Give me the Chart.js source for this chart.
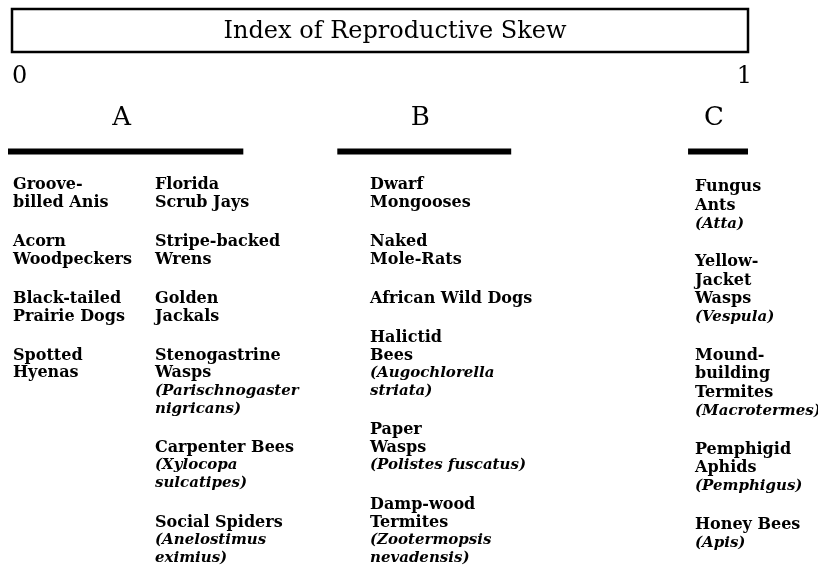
<!DOCTYPE html>
<html>
<head>
<meta charset="utf-8">
<script src="https://cdn.jsdelivr.net/npm/chart.js@4.4.0/dist/chart.umd.min.js"></script>
<style>
  html, body { margin: 0; padding: 0; background: #fff; }
</style>
</head>
<body>
<canvas id="skewChart" width="818" height="569"></canvas>
<script>
// Data
const groups = ['A', 'B', 'C'];
const rangeStart = [0, 0.445, 0.919];
const rangeEnd = [0.318, 0.68, 1];
const axisTicks = [0, 1];
const axisTitle = 'Index of Reproductive Skew';

const speciesA1 = [
  { name: ['Groove-', 'billed Anis'], latin: [] },
  { name: ['Acorn', 'Woodpeckers'], latin: [] },
  { name: ['Black-tailed', 'Prairie Dogs'], latin: [] },
  { name: ['Spotted', 'Hyenas'], latin: [] }
];
const speciesA2 = [
  { name: ['Florida', 'Scrub Jays'], latin: [] },
  { name: ['Stripe-backed', 'Wrens'], latin: [] },
  { name: ['Golden', 'Jackals'], latin: [] },
  { name: ['Stenogastrine', 'Wasps'], latin: ['(Parischnogaster', 'nigricans)'] },
  { name: ['Carpenter Bees'], latin: ['(Xylocopa', 'sulcatipes)'] },
  { name: ['Social Spiders'], latin: ['(Anelostimus', 'eximius)'] }
];
const speciesB = [
  { name: ['Dwarf', 'Mongooses'], latin: [] },
  { name: ['Naked', 'Mole-Rats'], latin: [] },
  { name: ['African Wild Dogs'], latin: [] },
  { name: ['Halictid', 'Bees'], latin: ['(Augochlorella', 'striata)'] },
  { name: ['Paper', 'Wasps'], latin: ['(Polistes fuscatus)'] },
  { name: ['Damp-wood', 'Termites'], latin: ['(Zootermopsis', 'nevadensis)'] }
];
const speciesC = [
  { name: ['Fungus', 'Ants'], latin: ['(Atta)'] },
  { name: ['Yellow-', 'Jacket', 'Wasps'], latin: ['(Vespula)'] },
  { name: ['Mound-', 'building', 'Termites'], latin: ['(Macrotermes)'] },
  { name: ['Pemphigid', 'Aphids'], latin: ['(Pemphigus)'] },
  { name: ['Honey Bees'], latin: ['(Apis)'] }
];

// Layout of the text columns (pixels)
const columns = [
  { list: speciesA1, x: 13, top: 185, lineH: 17.8, gap: 21.2 },
  { list: speciesA2, x: 155, top: 185, lineH: 17.8, gap: 21.2 },
  { list: speciesB, x: 370, top: 185, lineH: 17.8, gap: 21.2 },
  { list: speciesC, x: 695, top: 187, lineH: 18.4, gap: 20 }
];

const serif = '"DejaVu Serif", serif';

const datasets = groups.map((g, i) => ({
  label: g,
  data: [{ x: rangeStart[i], y: 0 }, { x: rangeEnd[i], y: 0 }],
  borderColor: '#000',
  borderWidth: 6,
  borderCapStyle: 'butt',
  pointRadius: 0,
  tension: 0
}));

const diagramPlugin = {
  id: 'diagram',
  afterDraw(chart) {
    const ctx = chart.ctx;
    const x = chart.scales.x;
    ctx.save();

    // title box
    const boxL = x.getPixelForValue(0) + 4;
    const boxR = x.getPixelForValue(1);
    ctx.strokeStyle = '#000';
    ctx.lineWidth = 2.5;
    ctx.strokeRect(boxL, 9, boxR - boxL, 43);
    ctx.fillStyle = '#000';
    ctx.font = '24px ' + serif;
    ctx.textAlign = 'center';
    ctx.textBaseline = 'middle';
    ctx.fillText(axisTitle, (boxL + boxR) / 2 + 15, 32);

    // group letters over each range
    ctx.font = '26px ' + serif;
    groups.forEach((g, i) => {
      const cx = x.getPixelForValue((rangeStart[i] + rangeEnd[i]) / 2) - 4;
      ctx.fillText(g, cx, 118);
    });

    // species columns
    ctx.textAlign = 'left';
    columns.forEach(col => {
      let y = col.top;
      col.list.forEach(entry => {
        ctx.font = 'bold 16px ' + serif;
        entry.name.forEach(line => {
          ctx.fillText(line, col.x, y);
          y += col.lineH;
        });
        ctx.font = 'italic bold 15px ' + serif;
        entry.latin.forEach(line => {
          ctx.fillText(line, col.x, y);
          y += col.lineH;
        });
        y += col.gap;
      });
    });
    ctx.restore();
  }
};

new Chart(document.getElementById('skewChart').getContext('2d'), {
  type: 'line',
  data: { datasets: datasets },
  options: {
    responsive: false,
    animation: false,
    layout: { padding: { top: 60, left: 8, right: 70, bottom: 359 } },
    plugins: {
      legend: { display: false },
      tooltip: { enabled: false }
    },
    scales: {
      x: {
        type: 'linear',
        position: 'top',
        min: 0,
        max: 1,
        afterBuildTicks: (axis) => { axis.ticks = axisTicks.map(v => ({ value: v })); },
        ticks: {
          align: 'inner',
          labelOffset: 4,
          color: '#000',
          font: { family: serif, size: 24 },
          padding: 2,
          maxRotation: 0
        },
        grid: { display: false, drawTicks: false },
        border: { display: false }
      },
      y: {
        type: 'linear',
        display: false,
        min: -1,
        max: 1
      }
    }
  },
  plugins: [diagramPlugin]
});
</script>
</body>
</html>
